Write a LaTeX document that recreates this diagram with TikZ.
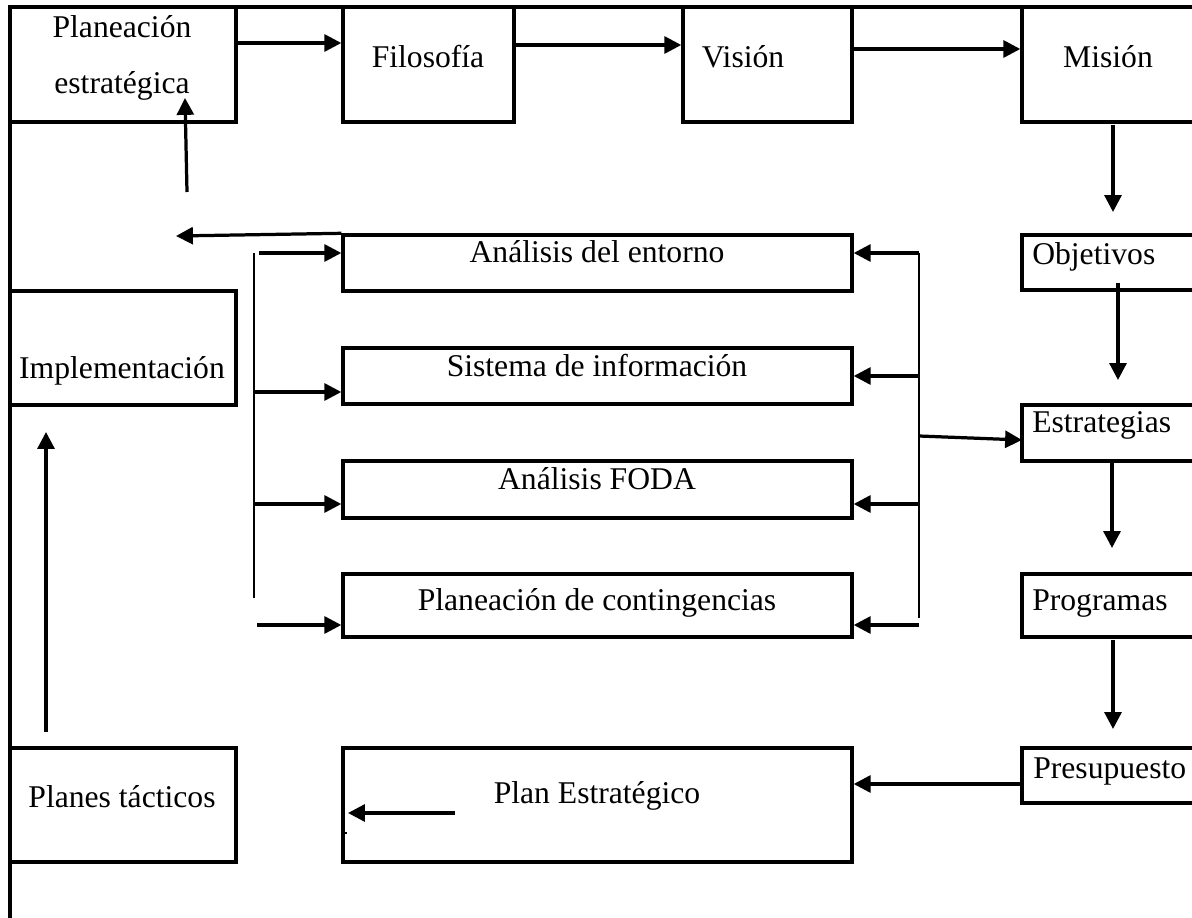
\documentclass[tikz,border=0pt]{standalone}
\usepackage{fontspec}
\setmainfont{Liberation Serif}
\usetikzlibrary{arrows.meta,fit}
\begin{document}
\begin{tikzpicture}[x=0.025cm,y=-0.025cm,
  box/.style={draw,line width=2.4pt,inner sep=0pt,rectangle},
  lbl/.style={inner sep=0pt,anchor=base,font=\fontsize{22.5}{27}\selectfont},
  lblw/.style={lbl,anchor=base west},
  arr/.style={line width=2.3pt,-{Triangle[length=12pt,width=12pt]}},
  bus/.style={line width=1.2pt},
  thinline/.style={line width=0.8pt}]
\useasboundingbox (0,0) rectangle (1192,918);
\clip (0,0) rectangle (1192,918);
% outer frame
\node[box,fit={(10,7) (1260,990)}] (frame) {};
% top row
\node[box,fit={(10,7) (236,122)}] (pe) {};
\node[box,fit={(343,7) (514,122)}] (fil) {};
\node[box,fit={(683,7) (852,122)}] (vis) {};
\node[box,fit={(1022,7) (1230,122)}] (mis) {};
% right column
\node[box,fit={(1022,235) (1230,290)}] (obj) {};
\node[box,fit={(1022,405) (1230,461)}] (est) {};
\node[box,fit={(1022,574) (1230,637)}] (prog) {};
\node[box,fit={(1022,748) (1230,803)}] (pres) {};
% middle column
\node[box,fit={(343,235) (852,291)}] (ent) {};
\node[box,fit={(343,348) (852,404)}] (sis) {};
\node[box,fit={(343,461) (852,518)}] (foda) {};
\node[box,fit={(343,574) (852,637)}] (cont) {};
\node[box,fit={(343,748) (852,862)}] (plan) {};
% left column
\node[box,fit={(10,291) (236,405)}] (impl) {};
\node[box,fit={(10,748) (236,862)}] (tac) {};

% labels
\node[lbl] (tpe1) at (122,38) {Planeación};
\node[lbl] (tpe2) at (122,94) {estratégica};
\node[lbl] (tfil) at (428,68) {Filosofía};
\node[lbl] (tvis) at (743,68) {Visión};
\node[lbl] (tmis) at (1108,68) {Misión};
\node[lblw] (tobj) at (1032,265) {Objetivos};
\node[lblw] (test) at (1032,433) {Estrategias};
\node[lblw] (tprog) at (1032,610) {Programas};
\node[lblw] (tpres) at (1033,778) {Presupuesto};
\node[lbl] (tent) at (597,263) {Análisis del entorno};
\node[lbl] (tsis) at (597,377) {Sistema de información};
\node[lbl] (tfoda) at (597,490) {Análisis FODA};
\node[lbl] (tcont) at (597,610) {Planeación de contingencias};
\node[lbl] (timpl) at (122,379) {Implementación};
\node[lbl] (ttac) at (122,807) {Planes tácticos};
\node[lbl] (tplan) at (597,803) {Plan Estratégico};

% reference points for arrows
\coordinate (y1) at (0,43);
\coordinate (y2) at (0,45);
\coordinate (y3) at (0,49);
\coordinate (mA) at (1113,125);
\coordinate (mB) at (1113,212);
\coordinate (oA) at (1118,283);
\coordinate (oB) at (1118,380);
\coordinate (eA) at (1112,463);
\coordinate (eB) at (1112,548);
\coordinate (pA) at (1113,640);
\coordinate (pB) at (1113,729);
\coordinate (y8) at (0,784);
\coordinate (iA) at (455,813);
\coordinate (iB) at (348,813);
\coordinate (tk) at (343,833);
\coordinate (tA) at (46,732);
\coordinate (tB) at (46,432);
\coordinate (uA) at (187,192);
\coordinate (uB) at (185,98);
\coordinate (lB) at (176,236);
% left bus
\coordinate (lbT) at (254,253);
\coordinate (lbB) at (254,598);
\coordinate (lb1) at (259,253);
\coordinate (lb2) at (254,392);
\coordinate (lb3) at (254,504);
\coordinate (lb4) at (257,625);
% right bus
\coordinate (rbT) at (919,253);
\coordinate (rbB) at (919,618);
\coordinate (rb2) at (919,376);
\coordinate (rb3) at (919,504);
\coordinate (rb4) at (919,625);
\coordinate (rbE) at (919,436);
\coordinate (estIn) at (1022,440);

% top row flow
\draw[arr] (pe.east |- y1) -- (fil.west |- y1);
\draw[arr] (fil.east |- y2) -- (vis.west |- y2);
\draw[arr] (vis.east |- y3) -- (mis.west |- y3);
% right column flow
\draw[arr] (mA) -- (mB);
\draw[arr] (oA) -- (oB);
\draw[arr] (eA) -- (eB);
\draw[arr] (pA) -- (pB);
\draw[arr] (pres.west |- y8) -- (plan.east |- y8);
\draw[arr] (iA) -- (iB);
\draw[thinline] (tk) -- ++(4,0);
% left column flow
\draw[arr] (tA) -- (tB);
\draw[arr] (uA) -- (uB);
\draw[arr] (ent.north west) -- (lB);
% left bus
\draw[bus] (lbT) -- (lbB);
\draw[arr] (lb1) -- (ent.west |- lb1);
\draw[arr] (lb2) -- (sis.west |- lb2);
\draw[arr] (lb3) -- (foda.west |- lb3);
\draw[arr] (lb4) -- (cont.west |- lb4);
% right bus
\draw[bus] (rbT) -- (rbB);
\draw[arr] (rbT) -- (ent.east |- rbT);
\draw[arr] (rb2) -- (sis.east |- rb2);
\draw[arr] (rb3) -- (foda.east |- rb3);
\draw[arr] (rb4) -- (cont.east |- rb4);
\draw[arr] (rbE) -- (estIn);
\end{tikzpicture}
\end{document}
